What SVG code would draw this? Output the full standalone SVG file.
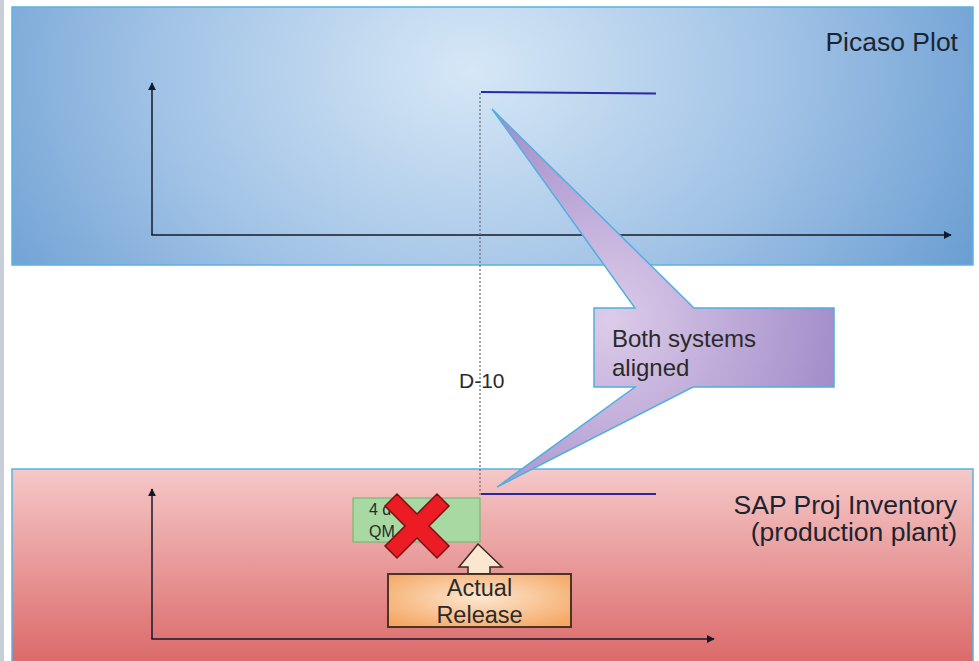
<svg xmlns="http://www.w3.org/2000/svg" width="979" height="661" viewBox="0 0 979 661">
<defs>
<radialGradient id="gBlue" gradientUnits="userSpaceOnUse" cx="470" cy="70" r="560" gradientTransform="translate(470 70) scale(1 0.75) translate(-470 -70)">
<stop offset="0" stop-color="#d6e7f6"/>
<stop offset="0.55" stop-color="#a2c3e6"/>
<stop offset="1" stop-color="#6b9ed2"/>
</radialGradient>
<linearGradient id="gPink" gradientUnits="userSpaceOnUse" x1="0" y1="469" x2="0" y2="665">
<stop offset="0" stop-color="#f5c8c8"/>
<stop offset="1" stop-color="#db6868"/>
</linearGradient>
<radialGradient id="gPurple" gradientUnits="userSpaceOnUse" cx="610" cy="320" r="260">
<stop offset="0" stop-color="#dccbe9"/>
<stop offset="1" stop-color="#9c85c6"/>
</radialGradient>
<radialGradient id="gOrange" cx="0.5" cy="0.45" r="0.65">
<stop offset="0" stop-color="#fde7d0"/>
<stop offset="1" stop-color="#f4a865"/>
</radialGradient>
<marker id="ah" viewBox="0 0 10 10" refX="9" refY="5" markerWidth="8" markerHeight="8" orient="auto" markerUnits="userSpaceOnUse">
<path d="M0,0 L10,5 L0,10 z" fill="#111a2a"/>
</marker>
</defs>
<style>
.panel{stroke:#5ab2e2;stroke-width:1.5}
.title{font-family:"Liberation Sans",Arial,sans-serif;font-size:26.5px;fill:#1c2430}
.axis{stroke:#141a28;stroke-width:1.5;fill:none}
.level{stroke:#2a2aa0;stroke-width:2;fill:none}
.lbl{font-family:"Liberation Sans",Arial,sans-serif;fill:#2a2a2a}
</style>
<rect x="0" y="0" width="979" height="661" fill="#ffffff"/>
<rect x="0" y="0" width="4" height="661" fill="#c7ced8"/>

<g id="picaso-panel">
<rect class="panel" x="12" y="7" width="961" height="258" fill="url(#gBlue)"/>
<text class="title" x="958" y="51" text-anchor="end">Picaso Plot</text>
</g>

<g id="sap-panel">
<rect class="panel" x="12" y="469" width="961" height="200" fill="url(#gPink)" stroke="#5a9ec4"/>
<text class="title" x="957" y="514" text-anchor="end">SAP Proj Inventory</text>
<text class="title" x="957" y="541" text-anchor="end">(production plant)</text>
</g>

<g id="connectors">
<line class="axis" x1="152" y1="235" x2="152" y2="83" marker-end="url(#ah)"/>
<line class="axis" x1="151.3" y1="235" x2="951" y2="235" marker-end="url(#ah)"/>
<line class="axis" x1="152" y1="639" x2="152" y2="489" marker-end="url(#ah)"/>
<line class="axis" x1="151.3" y1="639" x2="714" y2="639" marker-end="url(#ah)"/>
<line x1="480" y1="93" x2="480" y2="495" stroke="#6a6a6a" stroke-width="1.2" stroke-dasharray="2,2"/>
<line class="level" x1="481" y1="92" x2="656" y2="93.5"/>
<line class="level" x1="481" y1="494" x2="656" y2="494"/>
</g>

<g id="d10-label">
<text class="lbl" x="459" y="388" font-size="21" fill="#222">D-10</text>
</g>

<g id="callout">
<path d="M594,308 L635,308 L492,109 L694,308 L834,308 L834,387 L693,387 L497,487 L635,387 L594,387 Z" fill="url(#gPurple)" stroke="#4fb0e0" stroke-width="1.5" stroke-linejoin="miter"/>
<text class="lbl" x="612" y="347" font-size="24" fill="#2a2238">Both systems</text>
<text class="lbl" x="612" y="376" font-size="24" fill="#2a2238">aligned</text>
</g>

<g id="qm-box">
<rect x="353" y="498" width="127" height="44" fill="#a9d9a3" stroke="#7bb774" stroke-width="1.2"/>
<text class="lbl" x="369" y="515" font-size="16" fill="#333">4 d</text>
<text class="lbl" x="369" y="537" font-size="16" fill="#333">QM</text>
</g>

<g id="cross">
<polygon points="385,506 397,494 417,514 437,494 449,506 429,526 449,546 437,558 417,538 397,558 385,546 405,526" fill="#ec1c24" stroke="#7a1010" stroke-width="1.5" stroke-linejoin="miter"/>
</g>

<g id="release-arrow">
<polygon points="478,544 502,567 490,567 490,574 468,574 468,567 459,567" fill="#fbe6d2" stroke="#3a2a1c" stroke-width="1.5"/>
</g>

<g id="actual-release">
<rect x="388" y="574" width="183" height="53" fill="url(#gOrange)" stroke="#3a2a1c" stroke-width="1.8"/>
<text class="lbl" x="479.5" y="596" font-size="23.5" text-anchor="middle" fill="#2e2620">Actual</text>
<text class="lbl" x="479.5" y="623" font-size="23.5" text-anchor="middle" fill="#2e2620">Release</text>
</g>
</svg>
